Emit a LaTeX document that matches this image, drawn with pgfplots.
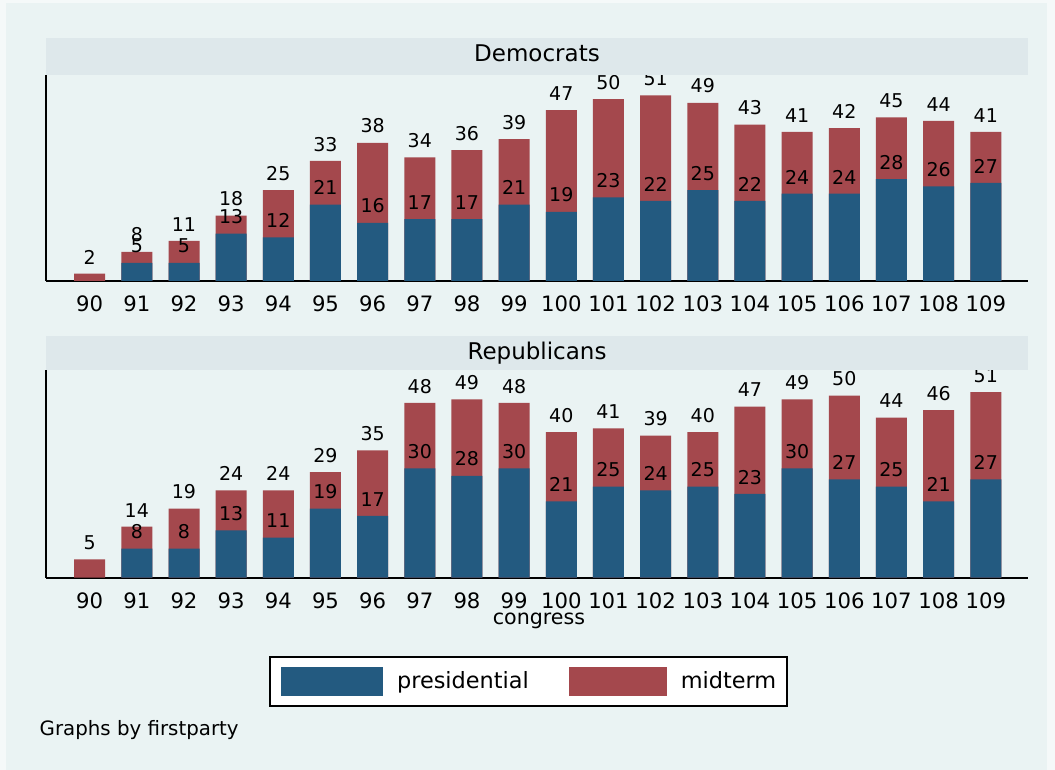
\documentclass[border=0pt]{standalone}
\usepackage{fontspec}
\setmainfont{DejaVu Sans}
\usepackage{pgfplots}
\pgfplotsset{compat=1.18}
\definecolor{pblue}{RGB}{35,90,128}
\definecolor{pred}{RGB}{164,72,77}
\definecolor{stripc}{RGB}{222,232,235}
\definecolor{bgc}{RGB}{234,243,243}
\pgfplotsset{
  /pgf/number format/assume math mode=true,
  panel/.style={
    scale only axis, width=491pt,
    xmin=-0.926, xmax=19.895, ymin=0,
    axis x line*=bottom, axis y line*=left,
    axis line style={line width=1pt, black},
    ytick=\empty,
    xtick={0,1,2,3,4,5,6,7,8,9,10,11,12,13,14,15,16,17,18,19},
    xticklabels={90,91,92,93,94,95,96,97,98,99,100,101,102,103,104,105,106,107,108,109},
    major tick length=0pt,
    xticklabel style={font=\fontsize{10.6}{12}\selectfont, yshift=-3.8pt},
    every axis plot/.append style={ybar, bar width=15.5pt, draw=none},
    nodes near coords,
    nodes near coords style={font=\fontsize{9.5}{11}\selectfont, text=black, yshift=1.3pt},
  }
}
\begin{document}
\begin{tikzpicture}[x=1pt,y=1pt]
\fill[white!50!bgc] (0,0) rectangle (527.5,385);
\fill[bgc] (3,0) rectangle (523.5,383.5);

% Democrats
\begin{axis}[panel, name=dem, at={(23pt,244.5pt)}, anchor=south west,
  height=102.75pt, ymax=56.5]
\addplot[fill=pred] coordinates {(0,2)(1,8)(2,11)(3,18)(4,25)(5,33)(6,38)(7,34)(8,36)(9,39)(10,47)(11,50)(12,51)(13,49)(14,43)(15,41)(16,42)(17,45)(18,44)(19,41)};
\addplot[fill=pblue] coordinates {(1,5)(2,5)(3,13)(4,12)(5,21)(6,16)(7,17)(8,17)(9,21)(10,19)(11,23)(12,22)(13,25)(14,22)(15,24)(16,24)(17,28)(18,26)(19,27)};
\end{axis}

% Republicans
\begin{axis}[panel, name=rep, at={(23pt,96.15pt)}, anchor=south west,
  height=103.85pt, ymax=57.06,
  xlabel={congress},
  xlabel style={at={(axis description cs:0.502,-0.206)}, anchor=center, font=\fontsize{10.3}{12}\selectfont},
  legend style={at={(0.4915,-0.502)}, anchor=center, draw=black, line width=1pt, fill=white,
    legend columns=2, inner xsep=5.5pt, inner ysep=5pt,
    font=\fontsize{11.2}{13}\selectfont, nodes={inner sep=0pt},
    /tikz/every odd column/.append style={column sep=7pt},
    /tikz/every even column/.append style={column sep=20pt}},
]
\addlegendimage{legend image code/.code={\fill[pblue] (0pt,-7.25pt) rectangle (51pt,7.25pt);}}
\addlegendentry{presidential}
\addlegendimage{legend image code/.code={\fill[pred] (0pt,-7.25pt) rectangle (49pt,7.25pt);}}
\addlegendentry{midterm}
\addplot[fill=pred, forget plot] coordinates {(0,5)(1,14)(2,19)(3,24)(4,24)(5,29)(6,35)(7,48)(8,49)(9,48)(10,40)(11,41)(12,39)(13,40)(14,47)(15,49)(16,50)(17,44)(18,46)(19,51)};
\addplot[fill=pblue, forget plot] coordinates {(1,8)(2,8)(3,13)(4,11)(5,19)(6,17)(7,30)(8,28)(9,30)(10,21)(11,25)(12,24)(13,25)(14,23)(15,30)(16,27)(17,25)(18,21)(19,27)};
\end{axis}

% strips
\fill[stripc] (dem.north west) rectangle ([yshift=18.7pt]dem.north east);
\node[anchor=base, inner sep=0pt, font=\fontsize{11.5}{13}\selectfont] at (268.5,354.15) {Democrats};
\fill[stripc] (rep.north west) rectangle ([yshift=17.15pt]rep.north east);
\node[anchor=base, inner sep=0pt, font=\fontsize{11.5}{13}\selectfont] at (268.5,205.3) {Republicans};

\node[anchor=base west, inner sep=0pt, font=\fontsize{9.9}{12}\selectfont] at (19.65,17) {Graphs by firstparty};
\end{tikzpicture}
\end{document}
